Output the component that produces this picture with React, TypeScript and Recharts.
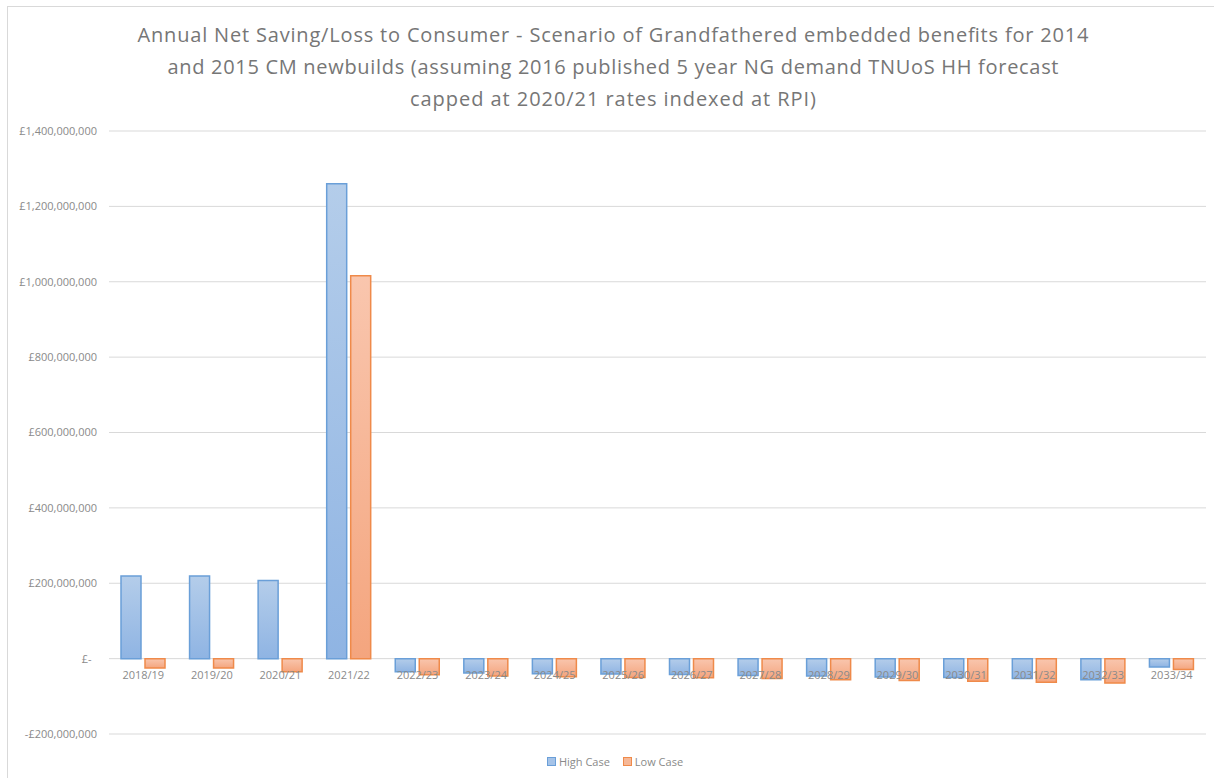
import React from 'react';
import { ComposedChart, Bar, Line, XAxis, YAxis, CartesianGrid, Legend, LabelList } from 'recharts';

const categories = ['2018/19','2019/20','2020/21','2021/22','2022/23','2023/24','2024/25','2025/26','2026/27','2027/28','2028/29','2029/30','2030/31','2031/32','2032/33','2033/34'];
const highCase = [219e6, 219e6, 207e6, 1260e6, -35e6, -38e6, -40e6, -41e6, -42e6, -45e6, -46e6, -49e6, -50e6, -53e6, -56e6, -22e6];
const lowCase = [-25e6, -25e6, -35e6, 1016e6, -43e6, -46e6, -48e6, -50e6, -51e6, -53e6, -56e6, -58e6, -60e6, -63e6, -65e6, -29e6];
const yTicks = [-200e6, 0, 200e6, 400e6, 600e6, 800e6, 1000e6, 1200e6, 1400e6];
const titleLines = [
  'Annual Net Saving/Loss to Consumer - Scenario of Grandfathered embedded benefits for 2014',
  'and 2015 CM newbuilds (assuming 2016 published 5 year NG demand TNUoS HH forecast',
  'capped at 2020/21 rates indexed at RPI)',
];
const titleWidths = [951, 891, 406];

const data = categories.map((c, i) => ({ cat: c, high: highCase[i], low: lowCase[i], base: 0 }));

const FONT = '"Open Sans", "Liberation Sans", sans-serif';

const fmt = (v: number) => {
  if (v === 0) return '£-\u2002';
  const s = '£' + Math.abs(v).toLocaleString('en-GB');
  return v < 0 ? '-' + s : s;
};

const LegendContent = () => (
  <div style={{ height: 38, display: 'flex', justifyContent: 'center', alignItems: 'flex-end', paddingBottom: 3, paddingLeft: 24, boxSizing: 'border-box', fontFamily: FONT, fontSize: 11, color: '#8a8a8a' }}>
    <span style={{ display: 'flex', alignItems: 'center', marginRight: 13 }}>
      <span style={{ width: 7, height: 7, background: '#a5c3e8', border: '1px solid #6a9fd8', marginRight: 3 }} />
      High Case
    </span>
    <span style={{ display: 'flex', alignItems: 'center' }}>
      <span style={{ width: 7, height: 7, background: '#f6b897', border: '1px solid #ef8a4a', marginRight: 3 }} />
      Low Case
    </span>
  </div>
);

export default function App() {
  return (
    <div style={{ position: 'absolute', left: 0, top: 0, width: 1214, height: 778, background: '#fff', overflow: 'hidden' }}>
      <div style={{ position: 'absolute', left: 7, top: 6, width: 1207, height: 772, borderLeft: '1px solid #d9d9d9', borderTop: '1px solid #d9d9d9' }} />
      <svg style={{ position: 'absolute', left: 0, top: 0 }} width={1214} height={120}>
        {titleLines.map((t, i) => (
          <text key={i} x={613} y={42 + i * 32} textAnchor="middle" fontFamily={FONT} fontSize={20} fill="#767676" textLength={titleWidths[i]} lengthAdjust="spacing">{t}</text>
        ))}
      </svg>
      <div style={{ position: 'absolute', left: 0, top: 0 }}>
        <ComposedChart width={1214} height={778} data={data} margin={{ top: 131, right: 8, left: 0, bottom: 6 }} barSize={20} barGap={4}>
          <defs>
            <linearGradient id="gHigh" x1="0" y1="0" x2="0" y2="1">
              <stop offset="0%" stopColor="#b4cdea" />
              <stop offset="100%" stopColor="#8fb4e3" />
            </linearGradient>
            <linearGradient id="gLow" x1="0" y1="0" x2="0" y2="1">
              <stop offset="0%" stopColor="#f9c6ae" />
              <stop offset="100%" stopColor="#f4a57e" />
            </linearGradient>
          </defs>
          <CartesianGrid vertical={false} stroke="#d9d9d9" strokeWidth={1} />
          <XAxis dataKey="cat" hide />
          <YAxis width={109} domain={[-200e6, 1400e6]} ticks={yTicks} tickFormatter={fmt} axisLine={false} tickLine={false} tickMargin={6} interval={0}
            tick={{ fill: '#8a8a8a', fontSize: 11, fontFamily: FONT }} />
          <Legend verticalAlign="bottom" content={<LegendContent />} />
          <Bar dataKey="high" name="High Case" fill="url(#gHigh)" stroke="#6a9fd8" strokeWidth={1.5} isAnimationActive={false} />
          <Bar dataKey="low" name="Low Case" fill="url(#gLow)" stroke="#ef8a4a" strokeWidth={1.5} isAnimationActive={false} />
          <Line dataKey="base" stroke="none" dot={false} activeDot={false} legendType="none" isAnimationActive={false}>
            <LabelList dataKey="cat" position="bottom" offset={13} fill="#8a8a8a" fontSize={11} fontFamily={FONT} />
          </Line>
        </ComposedChart>
      </div>
    </div>
  );
}
